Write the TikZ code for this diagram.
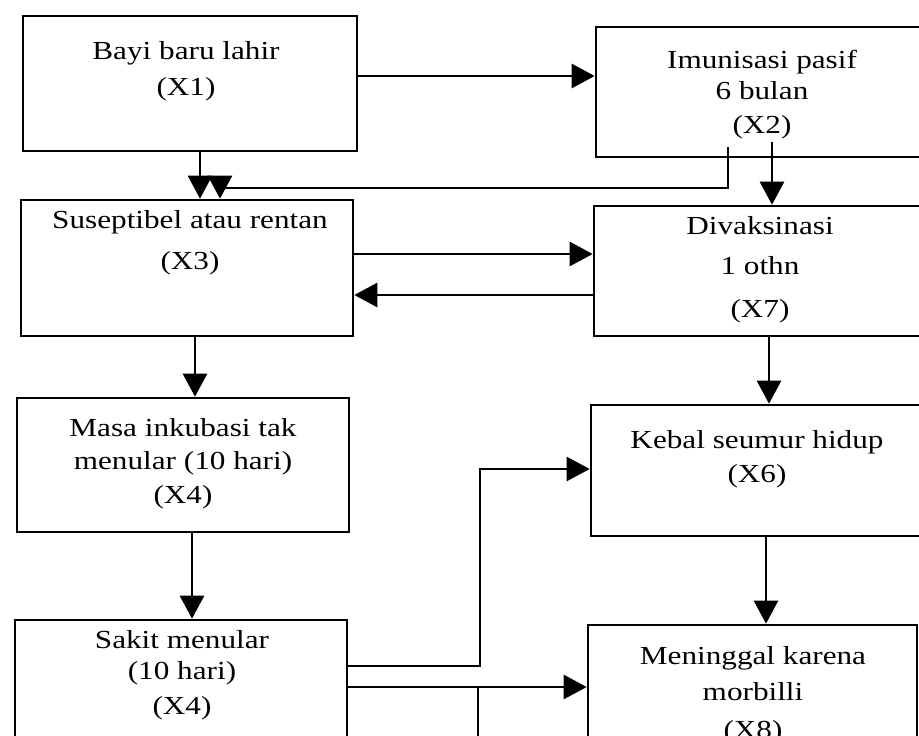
\documentclass[tikz,border=0pt]{standalone}
\usepackage{fontspec}
\setmainfont{Liberation Serif}[FakeStretch=1.2]
\usetikzlibrary{arrows.meta}
\begin{document}
\begin{tikzpicture}[x=1pt,y=-1pt,
  box/.style={draw, line width=2.6pt, rectangle, inner sep=0pt},
  lbl/.style={anchor=north, align=center, inner sep=0pt, font=\fontsize{26}{30}\selectfont},
  arr/.style={line width=2.6pt, -{Triangle[length=23pt,width=24pt]}},
  ln/.style={line width=2.6pt}]
\clip (0,0) rectangle (919,736);
% boxes
\node[box, minimum width=334pt, minimum height=135pt] (X1) at (190,83.5) {};
\node[box, minimum width=328pt, minimum height=130pt] (X2) at (760,92) {};
\node[box, minimum width=332pt, minimum height=136pt] (X3) at (187,268) {};
\node[box, minimum width=330pt, minimum height=130pt] (X7) at (759,271) {};
\node[box, minimum width=332pt, minimum height=134pt] (M) at (183,465) {};
\node[box, minimum width=331pt, minimum height=131pt] (X6) at (756.5,470.5) {};
\node[box, minimum width=332pt, minimum height=140pt] (S) at (181,690) {};
\node[box, minimum width=329pt, minimum height=145pt] (X8) at (752.5,697.5) {};
% labels
\node[lbl] (t1) at (186,41) {Bayi baru lahir\\[6pt](X1)};
\node[lbl] (t2) at (762,50) {Imunisasi pasif\\[1pt]6 bulan\\[4pt](X2)};
\node[lbl] (t3) at (190,210) {Suseptibel atau rentan\\[11pt](X3)};
\node[lbl] (t7) at (760,216) {Divaksinasi\\[10pt]1 othn\\[13pt](X7)};
\node[lbl] (tm) at (183,418) {Masa inkubasi tak\\[3pt]menular (10 hari)\\[4pt](X4)};
\node[lbl] (t6) at (757,430) {Kebal seumur hidup\\[4pt](X6)};
\node[lbl] (ts) at (182,630) {Sakit menular\\[1pt](10 hari)\\[5pt](X4)};
\node[lbl] (t8) at (753,646) {Meninggal karena\\[6pt]morbilli\\[8pt](X8)};
% connectors
\coordinate (h1) at (0,76);
\draw[arr] (X1.east |- h1) -- (X2.west |- h1);
\coordinate (v1) at (200,0);
\draw[arr] (X1.south -| v1) -- (X3.north -| v1);
\coordinate (tap2) at (728,147);
\coordinate (v2) at (220,188);
\draw[arr] (tap2) |- (v2) -- (X3.north -| v2);
\coordinate (v3) at (772,142);
\draw[arr] (v3) -- (X7.north -| v3);
\coordinate (h3) at (0,254);
\draw[arr] (X3.east |- h3) -- (X7.west |- h3);
\coordinate (h4) at (0,295);
\draw[arr] (X7.west |- h4) -- (X3.east |- h4);
\coordinate (v5) at (195,0);
\draw[arr] (X3.south -| v5) -- (M.north -| v5);
\coordinate (v6) at (192,0);
\draw[arr] (M.south -| v6) -- (S.north -| v6);
\coordinate (v7) at (769,0);
\draw[arr] (X7.south -| v7) -- (X6.north -| v7);
\coordinate (v8) at (766,0);
\draw[arr] (X6.south -| v8) -- (X8.north -| v8);
\coordinate (h9) at (480,666);
\coordinate (h9b) at (0,469);
\draw[arr] (S.east |- h9) -- (h9) |- (X6.west |- h9b);
\coordinate (h10) at (0,687);
\draw[arr] (S.east |- h10) -- (X8.west |- h10);
\coordinate (j) at (478,687);
\coordinate (jb) at (478,745);
\draw[ln] (j) -- (jb);
\end{tikzpicture}
\end{document}
